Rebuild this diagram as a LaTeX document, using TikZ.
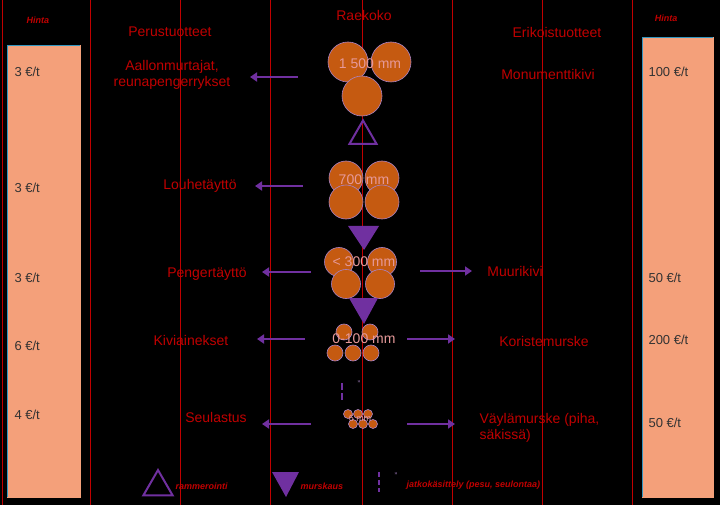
\documentclass[tikz,border=0pt]{standalone}
\usepackage{fontspec}
\setmainfont{Liberation Sans}
\usetikzlibrary{arrows.meta,shapes.geometric}
\definecolor{rd}{HTML}{C00000}
\definecolor{pu}{HTML}{7030A0}
\definecolor{ball}{HTML}{C55A11}
\definecolor{box}{HTML}{F4A07A}
\tikzset{
 lbl/.style={text=rd,font=\fontsize{14}{16}\selectfont,align=center},
 lgd/.style={text=rd,font=\fontsize{9}{10}\selectfont\itshape\bfseries,anchor=west},
 price/.style={text=black!80,font=\fontsize{13}{15}\selectfont},
 arr/.style={pu,line width=2.2pt,-{Triangle[length=7pt,width=9pt]}},
 ball/.style={circle,fill=ball,draw=pu!60,line width=0.6pt,inner sep=0pt},
}
\begin{document}
\begin{tikzpicture}[x=1pt,y=-1pt]
\fill[black] (0,0) rectangle (720,505);
\useasboundingbox (0,0) rectangle (720,505);
\foreach \x in {2,90,180,270,362,452,542,632} \draw[rd,line width=0.6pt] (\x,0) -- (\x,505);
\draw[box,fill=box] (7,45) rectangle (80,497);
\draw[cyan!50!teal,line width=0.6pt] (7,497) -- (7,45) -- (80,45);
\draw[box,fill=box] (642,37) rectangle (713,497);
\draw[cyan!50!teal,line width=0.6pt] (642,497) -- (642,37) -- (713,37);
% headers
\node[lgd,anchor=center] (h1) at (38,20) {Hinta};
\node[lgd,anchor=center] (h2) at (666,18) {Hinta};
\node[lbl] (hp) at (170,32) {Perustuotteet};
\node[lbl] (hr) at (364,15) {Raekoko};
\node[lbl] (he) at (557,32) {Erikoistuotteet};
% balls
\node[ball,minimum size=40pt] (b1) at (348,62) {};
\node[ball,minimum size=40pt] (b2) at (391,62) {};
\node[ball,minimum size=40pt] (b3) at (362,96) {};
\node[lbl,text=rd!40!white] (t1) at (370,64) {1 500 mm};
\node[draw=pu,line width=2pt,regular polygon,regular polygon sides=3,inner sep=5.5pt] (u1) at (363,136) {};
\foreach \p/\q in {a/{(346,178)},b/{(382,178)},c/{(346,202)},d/{(382,202)}} \node[ball,minimum size=34pt] (c\p) at \q {};
\node[lbl,text=rd!40!white] (t2) at (364,180) {700 mm};
\fill[pu] (348,226) -- (379,226) -- (364,250) -- cycle;
\foreach \p/\q in {a/{(339,262)},b/{(382,262)},c/{(346,284)},d/{(380,284)}} \node[ball,minimum size=29pt] (d\p) at \q {};
\node[lbl,text=rd!40!white] (t3) at (364,262) {< 300 mm};
\fill[pu] (349,298) -- (378,298) -- (364,324) -- cycle;
\foreach \p/\q in {a/{(344,332)},b/{(370,332)},c/{(335,353)},d/{(353,353)},e/{(371,353)}} \node[ball,minimum size=16pt] (e\p) at \q {};
\node[lbl,text=rd!40!white] (t4) at (364,339) {0-100 mm};
\draw[pu,line width=2.2pt,dash pattern=on 7pt off 3pt] (342,383) -- (342,401);
\node[text=pu!60,font=\footnotesize] (tk) at (359,384) {"};
\foreach \p/\q in {a/{(348,414)},b/{(358,414)},c/{(368,414)},d/{(353,424)},e/{(363,424)},f/{(373,424)}} \node[ball,minimum size=9pt] (f\p) at \q {};
\node[lbl,text=rd!40!white,font=\small] (t5) at (360,418) {6 mm};
% left labels
\node[lbl] (l1) at (172,75) {Aallonmurtajat,\\reunapengerrykset};
\node[lbl] (l2) at (200,186) {Louhetäyttö};
\node[lbl] (l3) at (207,274) {Pengertäyttö};
\node[lbl] (l4) at (191,340) {Kiviainekset};
\node[lbl] (l5) at (216,417) {Seulastus};
% right labels
\node[lbl] (r1) at (548,74) {Monumenttikivi};
\node[lbl] (r2) at (515,271) {Muurikivi};
\node[lbl] (r3) at (544,341) {Koristemurske};
\node[lbl,align=left,anchor=west] (r4) at (476,428) {Väylämurske (piha,\\säkissä)};
% arrows
\coordinate (a1s) at (298,77); \coordinate (a1e) at (250,77);
\coordinate (a2s) at (303,186); \coordinate (a2e) at (255,186);
\coordinate (a3s) at (311,272); \coordinate (a3e) at (262,272);
\coordinate (a4s) at (305,339); \coordinate (a4e) at (257,339);
\coordinate (a5s) at (311,424); \coordinate (a5e) at (262,424);
\coordinate (b3s) at (420,271); \coordinate (b3e) at (472,271);
\coordinate (b4s) at (407,339); \coordinate (b4e) at (455,339);
\coordinate (b5s) at (407,424); \coordinate (b5e) at (455,424);
\foreach \s/\e in {a1s/a1e,a2s/a2e,a3s/a3e,a4s/a4e,a5s/a5e,b3s/b3e,b4s/b4e,b5s/b5e} \draw[arr] (\s) -- (\e);
% prices
\node[price,anchor=west] (p1) at (11,72) {3 €/t};
\node[price,anchor=west] (p2) at (11,188) {3 €/t};
\node[price,anchor=west] (p3) at (11,278) {3 €/t};
\node[price,anchor=west] (p4) at (11,346) {6 €/t};
\node[price,anchor=west] (p5) at (11,415) {4 €/t};
\node[price,anchor=west] (q1) at (645,72) {100 €/t};
\node[price,anchor=west] (q2) at (645,278) {50 €/t};
\node[price,anchor=west] (q3) at (645,340) {200 €/t};
\node[price,anchor=west] (q4) at (645,423) {50 €/t};
% legend
\node[draw=pu,line width=2pt,regular polygon,regular polygon sides=3,inner sep=6pt] (g1) at (158,487) {};
\node[lgd] (g1t) at (172,486) {rammerointi};
\fill[pu] (272,472) -- (299,472) -- (286,497) -- cycle;
\node[lgd] (g2t) at (297,486) {murskaus};
\draw[pu,line width=2pt,dash pattern=on 5pt off 3pt] (379,472) -- (379,492);
\node[text=pu!60,font=\footnotesize] (g3k) at (396,476) {"};
\node[lgd] (g3t) at (403,485) {jatkokäsittely (pesu, seulontaa)};
\end{tikzpicture}
\end{document}
